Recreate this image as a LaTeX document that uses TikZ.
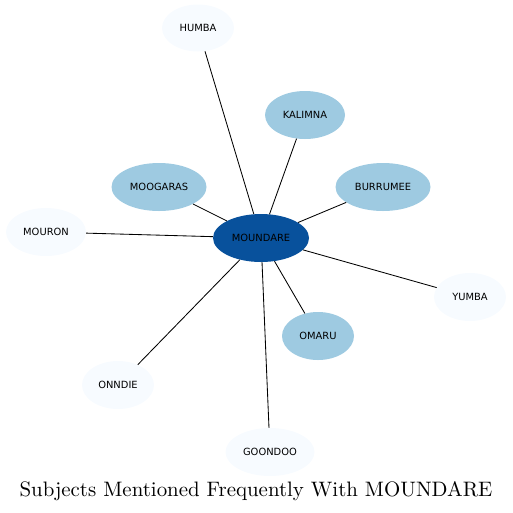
\documentclass[tikz,border=0pt]{standalone}
\usepackage{fontspec}
\newfontfamily\labelfont{DejaVu Sans}
\newfontfamily\titlefont{lmroman10-regular.otf}
\usetikzlibrary{shapes.geometric}
\definecolor{dark}{HTML}{08519C}
\definecolor{mid}{HTML}{9ECAE1}
\definecolor{pale}{HTML}{F7FBFF}
\tikzset{
  base/.style={ellipse, inner sep=0pt, minimum height=48pt, font=\labelfont\fontsize{9.9}{11}\selectfont},
  hub/.style={base, fill=dark},
  near/.style={base, fill=mid},
  far/.style={base, fill=pale},
  link/.style={draw=black, line width=0.85pt}
}
\begin{document}
\begin{tikzpicture}[x=1pt,y=1pt]
\useasboundingbox (0,0) rectangle (513,-512);
\node[hub, minimum width=96pt] (c) at (261,-238) {MOUNDARE};
\node[far, minimum width=72pt, minimum height=47pt] (humba) at (198,-28) {HUMBA};
\node[near, minimum width=80pt] (kal) at (305,-115) {KALIMNA};
\node[near, minimum width=95pt] (moo) at (159,-187) {MOOGARAS};
\node[near, minimum width=95pt] (bur) at (383,-187) {BURRUMEE};
\node[far, minimum width=80pt] (mou) at (46,-232) {MOURON};
\node[far, minimum width=72pt] (yum) at (470,-297) {YUMBA};
\node[near, minimum width=72pt] (oma) at (318,-336) {OMARU};
\node[far, minimum width=72pt] (onn) at (118,-385) {ONNDIE};
\node[far, minimum width=89pt] (goo) at (270,-452) {GOONDOO};
\foreach \n in {humba,kal,moo,bur,mou,yum,oma,onn,goo} \draw[link] (c) -- (\n);
\node[font=\titlefont\fontsize{20.9}{24}\selectfont] (title) at (256,-491) {Subjects Mentioned Frequently With MOUNDARE};
\end{tikzpicture}
\end{document}
